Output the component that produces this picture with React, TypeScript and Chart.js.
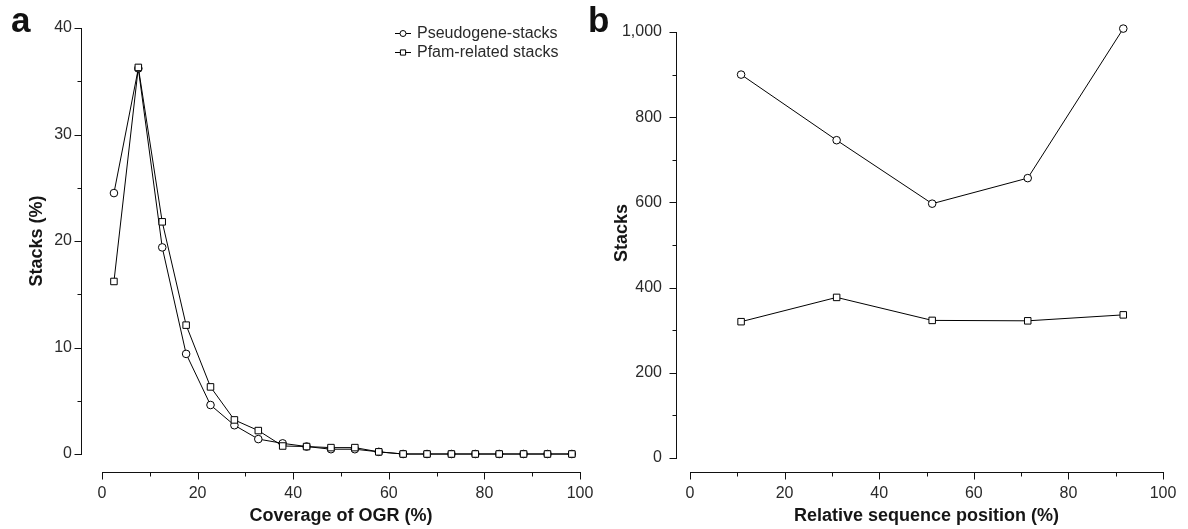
import React, { useEffect, useRef } from 'react';
import { Chart, registerables } from 'chart.js';

Chart.register(...registerables);

// Panel a: coverage of OGR (%) vs stacks (%)
const coverageX = [2.5, 7.6, 12.6, 17.6, 22.7, 27.7, 32.7, 37.8, 42.8, 47.9, 52.9, 57.9, 63.0, 68.0, 73.1, 78.1, 83.1, 88.2, 93.2, 98.3];
const pseudogenePct = [24.5, 36.2, 19.4, 9.4, 4.6, 2.7, 1.4, 1.0, 0.7, 0.45, 0.45, 0.2, 0, 0, 0, 0, 0, 0, 0, 0];
const pfamPct = [16.2, 36.3, 21.8, 12.1, 6.3, 3.2, 2.2, 0.75, 0.7, 0.6, 0.6, 0.2, 0, 0, 0, 0, 0, 0, 0, 0];

// Panel b: relative sequence position (%) vs stacks
const positionX = [10.8, 31.0, 51.2, 71.4, 91.6];
const pseudogeneStacks = [900, 746, 597, 657, 1008];
const pfamStacks = [320, 377, 323, 322, 336];

const seriesNames = ['Pseudogene-stacks', 'Pfam-related stacks'];
const xTitleA = 'Coverage of OGR (%)';
const yTitleA = 'Stacks (%)';
const xTitleB = 'Relative sequence position (%)';
const yTitleB = 'Stacks';

const FONT = "'Liberation Sans', Arial, Helvetica, sans-serif";
const TICK_COLOR = '#2a2a2a';
const TITLE_COLOR = '#161616';

const toPoints = (xs: number[], ys: number[]) => xs.map((x, i) => ({ x, y: ys[i] }));

function drawMarker(ctx: CanvasRenderingContext2D, style: string, x: number, y: number, r: number) {
  ctx.beginPath();
  if (style === 'circle') {
    ctx.arc(x, y, r, 0, Math.PI * 2);
  } else {
    ctx.rect(x - r, y - r, r * 2, r * 2);
  }
  ctx.fillStyle = '#fff';
  ctx.fill();
  ctx.strokeStyle = '#000';
  ctx.lineWidth = 1;
  ctx.stroke();
}

function axisPlugin(cfg: { yLineX: number; xLineY: number; xMinor: number; yMinor: number }) {
  return {
    id: 'detachedAxes',
    afterDraw(chart: any) {
      const ctx = chart.ctx as CanvasRenderingContext2D;
      const xs = chart.scales.x;
      const ys = chart.scales.y;
      ctx.save();
      ctx.strokeStyle = '#111';
      ctx.lineWidth = 1;
      // y axis
      const yTop = ys.getPixelForValue(ys.max);
      const yBot = ys.getPixelForValue(ys.min);
      const lx = Math.round(cfg.yLineX) + 0.5;
      ctx.beginPath();
      ctx.moveTo(lx, Math.round(yTop));
      ctx.lineTo(lx, Math.round(yBot) + 1);
      ctx.stroke();
      for (let v = ys.min; v <= ys.max + 1e-9; v += cfg.yMinor) {
        const major = ys.ticks.some((t: any) => Math.abs(t.value - v) < 1e-6);
        const py = Math.round(ys.getPixelForValue(v)) + 0.5;
        ctx.beginPath();
        ctx.moveTo(lx, py);
        ctx.lineTo(lx - (major ? 7 : 4), py);
        ctx.stroke();
      }
      // x axis
      const xL = xs.getPixelForValue(xs.min);
      const xR = xs.getPixelForValue(xs.max);
      const ly = Math.round(cfg.xLineY) + 0.5;
      ctx.beginPath();
      ctx.moveTo(Math.round(xL), ly);
      ctx.lineTo(Math.round(xR) + 1, ly);
      ctx.stroke();
      for (let v = xs.min; v <= xs.max + 1e-9; v += cfg.xMinor) {
        const major = xs.ticks.some((t: any) => Math.abs(t.value - v) < 1e-6);
        const px = Math.round(xs.getPixelForValue(v)) + 0.5;
        ctx.beginPath();
        ctx.moveTo(px, ly);
        ctx.lineTo(px, ly + (major ? 7 : 4));
        ctx.stroke();
      }
      ctx.restore();
    },
  };
}

function yTitlePlugin(cfg: { text: string; x: number; y: number }) {
  return {
    id: 'yTitleText',
    afterDraw(chart: any) {
      const ctx = chart.ctx as CanvasRenderingContext2D;
      ctx.save();
      ctx.translate(cfg.x, cfg.y);
      ctx.rotate(-Math.PI / 2);
      ctx.font = `bold 18px ${FONT}`;
      ctx.fillStyle = TITLE_COLOR;
      ctx.textAlign = 'center';
      ctx.textBaseline = 'middle';
      ctx.fillText(cfg.text, 0, 0);
      ctx.restore();
    },
  };
}

function legendPlugin(cfg: { lineX0: number; lineX1: number; textX: number; rows: number[] }) {
  return {
    id: 'insetLegend',
    afterDraw(chart: any) {
      const ctx = chart.ctx as CanvasRenderingContext2D;
      ctx.save();
      chart.data.datasets.forEach((ds: any, i: number) => {
        const y = cfg.rows[i];
        ctx.strokeStyle = '#000';
        ctx.lineWidth = 1;
        ctx.beginPath();
        ctx.moveTo(cfg.lineX0, y + 0.5);
        ctx.lineTo(cfg.lineX1, y + 0.5);
        ctx.stroke();
        const cx = (cfg.lineX0 + cfg.lineX1) / 2;
        drawMarker(ctx, ds.pointStyle, cx, y + 0.5, ds.pointStyle === 'circle' ? 3 : 2.6);
        ctx.fillStyle = TICK_COLOR;
        ctx.font = `16px ${FONT}`;
        ctx.textBaseline = 'middle';
        ctx.textAlign = 'left';
        ctx.fillText(ds.label, cfg.textX, y + 1);
      });
      ctx.restore();
    },
  };
}

function makeDatasets(xs: number[], a: number[], b: number[]) {
  return [
    {
      label: seriesNames[0],
      data: toPoints(xs, a),
      borderColor: '#000',
      borderWidth: 1,
      pointStyle: 'circle',
      pointRadius: 3.8,
      pointBackgroundColor: '#fff',
      pointBorderColor: '#000',
      pointBorderWidth: 1,
      tension: 0,
      clip: false,
      order: 2,
    },
    {
      label: seriesNames[1],
      data: toPoints(xs, b),
      borderColor: '#000',
      borderWidth: 1,
      pointStyle: 'rect',
      pointRadius: 4.6,
      pointBackgroundColor: '#fff',
      pointBorderColor: '#000',
      pointBorderWidth: 1,
      tension: 0,
      clip: false,
      order: 1,
    },
  ];
}

function makeOptions(p: {
  yMax: number; yStep: number; yWidth: number; xHeight: number;
  top: number; right: number; yPad: number; xPad: number;
  xTitle: string; yTitle: string; yTitlePad: number; showYTitle: boolean;
}) {
  return {
    responsive: false,
    animation: false as const,
    events: [],
    layout: { padding: { top: p.top, right: p.right, left: 0, bottom: 0 } },
    plugins: { legend: { display: false }, tooltip: { enabled: false } },
    scales: {
      x: {
        type: 'linear' as const,
        min: 0,
        max: 100,
        border: { display: false },
        grid: { display: true, drawOnChartArea: false, drawTicks: true, tickLength: p.xPad, tickColor: 'rgba(0,0,0,0)' },
        ticks: { stepSize: 20, padding: 0, color: TICK_COLOR, font: { family: FONT, size: 16 }, maxRotation: 0 },
        title: { display: true, text: p.xTitle, color: TITLE_COLOR, font: { family: FONT, size: 18, weight: 'bold' as const }, padding: { top: 0, bottom: 2 } },
        afterFit: (s: any) => { s.height = p.xHeight; },
      },
      y: {
        type: 'linear' as const,
        min: 0,
        max: p.yMax,
        border: { display: false },
        grid: { display: true, drawOnChartArea: false, drawTicks: true, tickLength: p.yPad, tickColor: 'rgba(0,0,0,0)' },
        ticks: { stepSize: p.yStep, padding: 0, color: TICK_COLOR, font: { family: FONT, size: 16 } },
        title: { display: p.showYTitle, text: p.yTitle, color: TITLE_COLOR, font: { family: FONT, size: 18, weight: 'bold' as const }, padding: { top: p.yTitlePad, bottom: 0 } },
        afterFit: (s: any) => { s.width = p.yWidth; },
      },
    },
  };
}

export default function App() {
  const refA = useRef<HTMLCanvasElement>(null);
  const refB = useRef<HTMLCanvasElement>(null);

  useEffect(() => {
    const chartA = new Chart(refA.current!, {
      type: 'line',
      data: { datasets: makeDatasets(coverageX, pseudogenePct, pfamPct) as any },
      options: makeOptions({
        yMax: 40, yStep: 10, yWidth: 102, xHeight: 75, top: 28, right: 14,
        yPad: 30, xPad: 30, xTitle: xTitleA, yTitle: yTitleA, yTitlePad: 26, showYTitle: true,
      }) as any,
      plugins: [
        axisPlugin({ yLineX: 81, xLineY: 472, xMinor: 10, yMinor: 5 }),
        legendPlugin({ lineX0: 395, lineX1: 411, textX: 417, rows: [33, 52] }),
      ],
    });
    const chartB = new Chart(refB.current!, {
      type: 'line',
      data: { datasets: makeDatasets(positionX, pseudogeneStacks, pfamStacks) as any },
      options: makeOptions({
        yMax: 1000, yStep: 200, yWidth: 96, xHeight: 71, top: 32, right: 25,
        yPad: 28, xPad: 26, xTitle: xTitleB, yTitle: yTitleB, yTitlePad: 17, showYTitle: false,
      }) as any,
      plugins: [
        axisPlugin({ yLineX: 81.5, xLineY: 472, xMinor: 10, yMinor: 100 }),
        yTitlePlugin({ text: yTitleB, x: 28, y: 233 }),
      ],
    });
    return () => {
      chartA.destroy();
      chartB.destroy();
    };
  }, []);

  const panelLabel: React.CSSProperties = {
    position: 'absolute',
    top: 2,
    fontFamily: FONT,
    fontWeight: 'bold',
    fontSize: 35,
    lineHeight: 1,
    color: '#111',
  };

  return (
    <div style={{ position: 'fixed', left: 0, top: 0, width: 1188, height: 529, background: '#fff', overflow: 'hidden' }}>
      <canvas ref={refA} width={594} height={529} style={{ position: 'absolute', left: 0, top: 0 }} />
      <canvas ref={refB} width={594} height={529} style={{ position: 'absolute', left: 594, top: 0 }} />
      <div style={{ ...panelLabel, left: 11 }}>a</div>
      <div style={{ ...panelLabel, left: 588 }}>b</div>
    </div>
  );
}
